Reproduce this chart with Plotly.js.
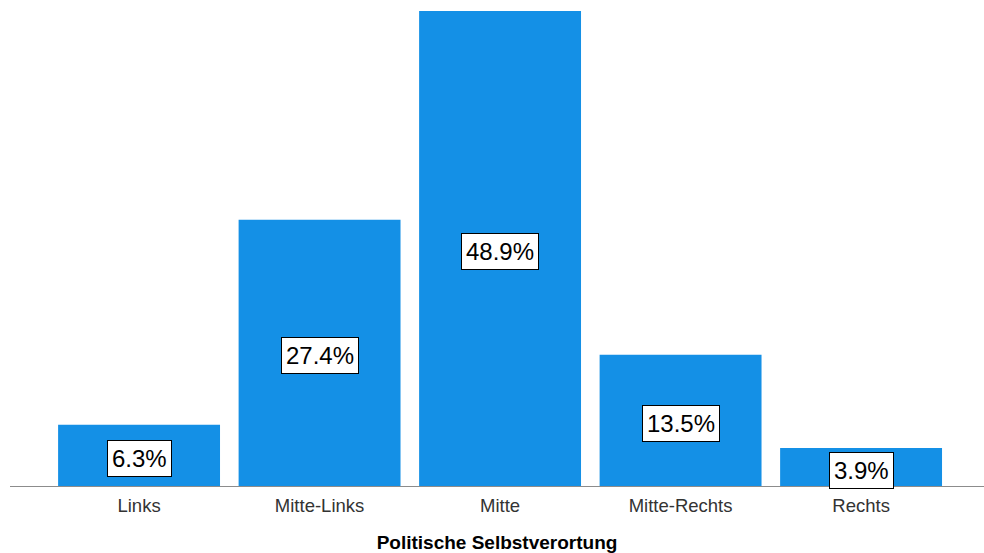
<!DOCTYPE html>
<html>
<head>
<meta charset="utf-8">
<script src="https://cdn.plot.ly/plotly-3.0.1.min.js"></script>
<style>html,body{margin:0;padding:0;background:#fff;}#chart{width:984px;height:553px;}</style>
</head>
<body>
<div id="chart"></div>
<script>
const categories = ["Links", "Mitte-Links", "Mitte", "Mitte-Rechts", "Rechts"];
const values = [6.3, 27.4, 48.9, 13.5, 3.9];
const labels = ["6.3%", "27.4%", "48.9%", "13.5%", "3.9%"];
const xTitle = "Politische Selbstverortung";

const idx = categories.map((c, i) => i);
const trace = {
  type: "bar",
  x: idx,
  y: values,
  width: 0.897,
  marker: { color: "rgb(20,144,230)", line: { width: 0 } },
  hoverinfo: "skip"
};

const annotations = values.map((v, i) => ({
  x: i, y: v / 2, xref: "x", yref: "y",
  text: labels[i], showarrow: false,
  yshift: -3,
  font: { family: "Liberation Sans, Arial, sans-serif", size: 24, color: "#000" },
  bgcolor: "#fff", bordercolor: "#000", borderwidth: 1, borderpad: 4
}));

const layout = {
  width: 984, height: 553,
  margin: { l: 10, r: 0, t: 11, b: 67 },
  paper_bgcolor: "#fff", plot_bgcolor: "#fff",
  showlegend: false,
  xaxis: {
    range: [-0.715, 4.681],
    tickvals: idx, ticktext: categories,
    showgrid: false, zeroline: false,
    showline: true, linecolor: "#8c8c8c", linewidth: 1,
    ticks: "outside", ticklen: 3, tickcolor: "rgba(0,0,0,0)",
    tickfont: { family: "Liberation Sans, Arial, sans-serif", size: 18.5, color: "#333" },
    title: { text: "<b>" + xTitle + "</b>", standoff: 20,
      font: { family: "Liberation Sans, Arial, sans-serif", size: 19, color: "#000" } }
  },
  yaxis: {
    range: [0, 48.9],
    visible: false, showgrid: false, zeroline: false
  },
  annotations: annotations
};

Plotly.newPlot("chart", [trace], layout, { displayModeBar: false, staticPlot: true });
</script>
</body>
</html>
